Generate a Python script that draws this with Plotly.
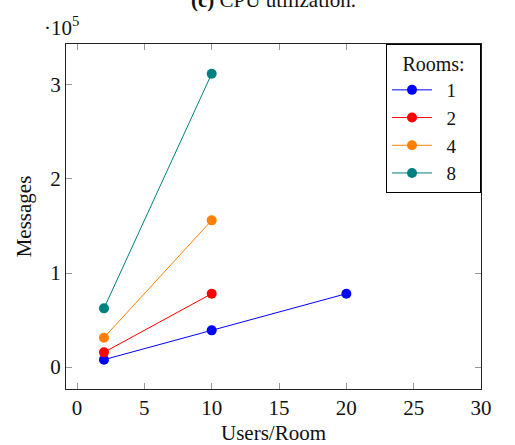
import plotly.graph_objects as go

rooms = ["1", "2", "4", "8"]
users_per_room = {
    "1": [2, 10, 20],
    "2": [2, 10],
    "4": [2, 10],
    "8": [2, 10],
}
messages = {
    "1": [7800, 39000, 78000],
    "2": [15600, 78000],
    "4": [31200, 156000],
    "8": [62400, 312000],
}
colors = {"1": "#0000ff", "2": "#ff0000", "4": "#ff8000", "8": "#008080"}
x_ticks = [0, 5, 10, 15, 20, 25, 30]
y_ticks = [0, 100000, 200000, 300000]
y_ticktext = ["0", "1", "2", "3"]

FONT = "Liberation Serif"
FS = 21
LFS = 19
NB = "\u00a0"

fig = go.Figure()
for k in rooms:
    fig.add_trace(go.Scatter(
        x=users_per_room[k], y=messages[k], name=NB * 2 + k + NB * 4, mode="lines+markers",
        line=dict(color=colors[k], width=1),
        marker=dict(color=colors[k], size=10),
    ))

axis_common = dict(
    showline=True, linecolor="#222", linewidth=1.2, mirror="allticks",
    ticks="inside", ticklen=6, tickcolor="#999", tickwidth=1,
    showgrid=False, zeroline=False, automargin=False,
    tickfont=dict(family=FONT, size=FS, color="#111"),
)

fig.update_layout(
    width=515, height=445,
    margin=dict(l=66, r=34, t=44, b=56, autoexpand=False),
    plot_bgcolor="white", paper_bgcolor="white",
    font=dict(family=FONT, size=FS, color="#111"),
    xaxis=dict(range=[-0.82, 30], tickvals=x_ticks,
               title=dict(text="Users/Room", font=dict(family=FONT, size=FS), standoff=6),
               **axis_common),
    yaxis=dict(range=[-23400, 343600], tickvals=y_ticks, ticktext=y_ticktext,
               title=dict(text="Messages", font=dict(family=FONT, size=FS), standoff=12),
               **axis_common),
    legend=dict(
        x=1, y=1, xanchor="right", yanchor="top",
        bordercolor="#000", borderwidth=1, bgcolor="white",
        title=dict(text="Rooms:", font=dict(family=FONT, size=LFS + 1), side="top center"),
        font=dict(family=FONT, size=LFS),
        itemwidth=40, tracegroupgap=0,
    ),
    showlegend=True,
)

fig.add_annotation(text="·10<sup>5</sup>", xref="paper", yref="paper",
                   x=0, y=1, xanchor="left", yanchor="bottom", yshift=2, xshift=-24,
                   showarrow=False, font=dict(family=FONT, size=FS))
fig.add_annotation(text="<b>(c)</b> CPU utilization.", xref="paper", yref="paper",
                   x=0.5, y=1, xanchor="center", yanchor="bottom", yshift=30,
                   showarrow=False, font=dict(family=FONT, size=FS))

fig.write_html("out.html")
